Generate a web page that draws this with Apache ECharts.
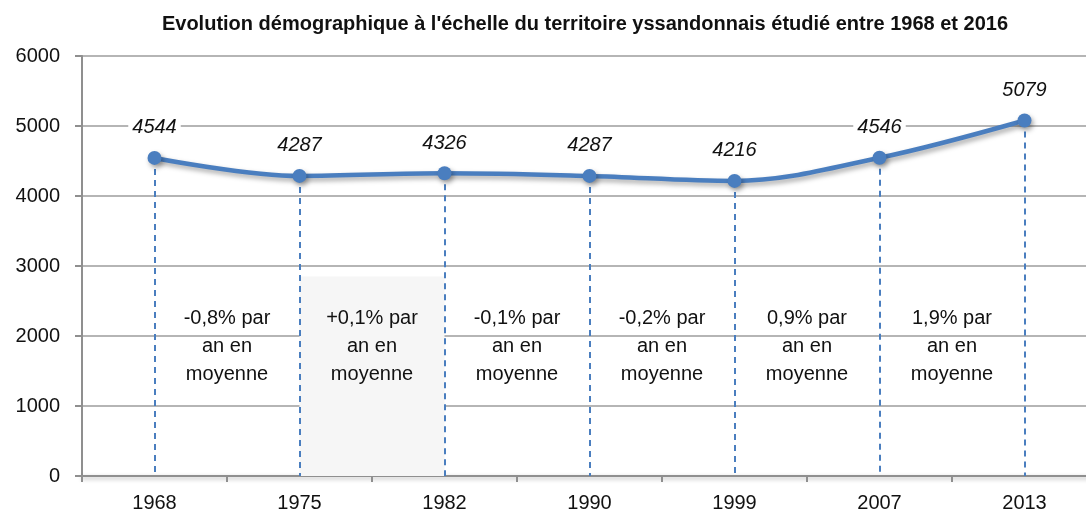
<!DOCTYPE html>
<html>
<head>
<meta charset="utf-8">
<script src="https://cdn.jsdelivr.net/npm/echarts@6/dist/echarts.min.js"></script>
<style>
  html, body { margin: 0; padding: 0; background: #fff; }
  #chart { width: 1086px; height: 514px; }
</style>
</head>
<body>
<div id="chart"></div>
<script>
// données du graphique
var years = ['1968', '1975', '1982', '1990', '1999', '2007', '2013'];
var population = [4544, 4287, 4326, 4287, 4216, 4546, 5079];
var yTicks = [0, 1000, 2000, 3000, 4000, 5000, 6000];
// taux annuel moyen entre deux recensements
var rates = ['-0,8%', '+0,1%', '-0,1%', '-0,2%', '0,9%', '1,9%'];
var rateBoxTop = 2850;

var FONT = "'Liberation Sans Narrow', 'Arial Narrow', 'Liberation Sans', sans-serif";
var BLUE = '#4a7ebf';
var GREY = '#8f8f8f';

var chart = echarts.init(document.getElementById('chart'), null, { renderer: 'canvas' });

// lignes pointillées de chaque point jusqu'à l'axe
var dropLines = population.map(function (v, i) {
  return [{ coord: [i, v] }, { coord: [i, 0] }];
});

// zones de texte entre deux années
var rateAreas = rates.map(function (r, i) {
  return [
    {
      name: r + ' par\nan en\nmoyenne',
      xAxis: years[i],
      yAxis: 0,
      itemStyle: { color: i === 1 ? '#f6f6f6' : 'rgba(255,255,255,0)' }
    },
    { xAxis: years[i + 1], yAxis: rateBoxTop }
  ];
});

var option = {
  animation: false,
  backgroundColor: '#fff',
  title: {
    text: "Evolution démographique à l'échelle du territoire yssandonnais étudié entre 1968 et 2016",
    left: 580,
    textAlign: 'center',
    top: 9,
    textStyle: { fontFamily: FONT, fontSize: 20, fontWeight: 'bold', color: '#111' }
  },
  grid: { left: 82, top: 56, width: 1015, height: 420, containLabel: false, outerBoundsMode: 'none' },
  xAxis: {
    type: 'category',
    data: years,
    boundaryGap: true,
    axisLine: { lineStyle: { color: GREY, width: 2, shadowColor: 'rgba(0,0,0,0.3)', shadowBlur: 4, shadowOffsetY: 2 } },
    axisTick: { show: true, length: 6, lineStyle: { color: GREY, width: 2 } },
    axisLabel: { margin: 17, fontFamily: FONT, fontSize: 20, color: '#111' },
    splitLine: { show: false }
  },
  yAxis: {
    type: 'value',
    min: 0,
    max: 6000,
    interval: 1000,
    axisLine: { show: true, lineStyle: { color: GREY, width: 2 } },
    axisTick: { show: true, inside: false, length: 7, lineStyle: { color: GREY, width: 2 } },
    axisLabel: {
      margin: 22,
      fontFamily: FONT,
      fontSize: 20,
      color: '#111',
      formatter: function (v) { return yTicks.indexOf(v) >= 0 ? String(v) : ''; }
    },
    splitLine: { show: true, lineStyle: { color: '#9c9c9c', width: 1.5 } }
  },
  series: [
    {
      name: 'Population',
      type: 'line',
      data: population,
      smooth: 0.35,
      symbol: 'circle',
      symbolSize: 14,
      z: 5,
      lineStyle: {
        color: BLUE, width: 4.5,
        shadowColor: 'rgba(0,0,0,0.35)', shadowBlur: 5, shadowOffsetX: 2, shadowOffsetY: 3
      },
      itemStyle: {
        color: BLUE,
        shadowColor: 'rgba(0,0,0,0.35)', shadowBlur: 5, shadowOffsetX: 2, shadowOffsetY: 3
      },
      label: {
        show: true,
        position: 'top',
        distance: 11,
        fontFamily: FONT,
        fontSize: 20,
        fontStyle: 'italic',
        color: '#111',
        backgroundColor: '#fff',
        padding: [2, 4]
      },
      markLine: {
        silent: true,
        symbol: ['none', 'none'],
        label: { show: false },
        lineStyle: { color: BLUE, width: 2, type: [6, 5], opacity: 1 },
        data: dropLines
      },
      markArea: {
        silent: true,
        label: {
          show: true,
          position: 'insideTop',
          distance: 28,
          fontFamily: FONT,
          fontSize: 20,
          lineHeight: 28,
          align: 'center',
          color: '#111'
        },
        data: rateAreas
      }
    }
  ]
};

chart.setOption(option);
</script>
</body>
</html>
